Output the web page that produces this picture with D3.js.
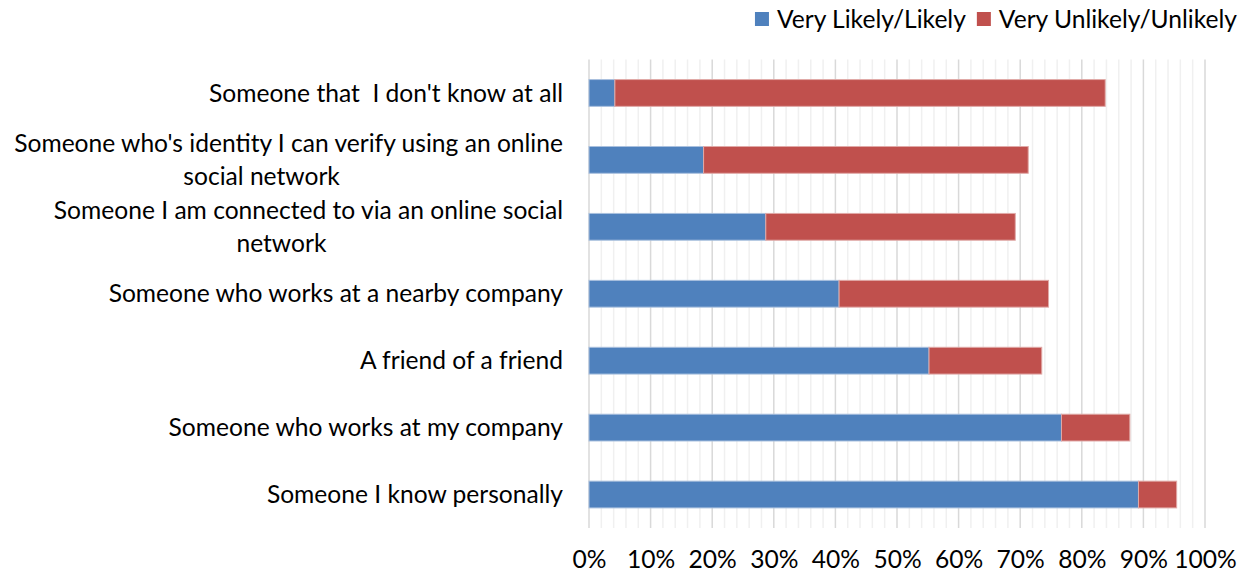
<!DOCTYPE html>
<html>
<head>
<meta charset="utf-8">
<script src="https://cdn.jsdelivr.net/npm/d3@7"></script>
<style>
  body { margin: 0; background: #fff; }
  text { font-family: Lato, "Open Sans", sans-serif; fill: #000; white-space: pre; }
</style>
</head>
<body>
<div id="chart"></div>
<script>
// category labels, top to bottom (multi-line ones split into lines)
const categories = [
  ["Someone that  I don't know at all"],
  ["Someone who's identity I can verify using an online", "social network"],
  ["Someone I am connected to via an online social", "network"],
  ["Someone who works at a nearby company"],
  ["A friend of a friend"],
  ["Someone who works at my company"],
  ["Someone I know personally"]
];
const likely   = [4.2, 18.6, 28.7, 40.6, 55.2, 76.7, 89.2];
const unlikely = [79.6, 52.7, 40.5, 34.0, 18.3, 11.1, 6.2];
const seriesNames = ["Very Likely/Likely", "Very Unlikely/Unlikely"];
const colors = ["#4F81BD", "#C0504D"];
const xTicks = [0, 10, 20, 30, 40, 50, 60, 70, 80, 90, 100];

const width = 1258, height = 575;
const margin = {top: 59.5, right: 53, bottom: 47, left: 589};
const w = width - margin.left - margin.right;
const h = height - margin.top - margin.bottom;
const fontSize = 24.6;

const svg = d3.select("#chart").append("svg")
  .attr("width", width)
  .attr("height", height);

const g = svg.append("g")
  .attr("transform", `translate(${margin.left},${margin.top})`);

const x = d3.scaleLinear().domain([0, 100]).range([0, w]);
const y = d3.scaleBand()
  .domain(d3.range(categories.length))
  .range([0, h])
  .paddingInner(0.6)
  .paddingOuter(0.3);

// minor gridlines every 2%
g.append("g").selectAll("line")
  .data(d3.range(0, 101, 2).filter(v => v % 10 !== 0))
  .join("line")
  .attr("x1", d => x(d)).attr("x2", d => x(d))
  .attr("y1", 0).attr("y2", h)
  .attr("stroke", "#f0f0f0")
  .attr("stroke-width", 1.5);

// major gridlines every 10%
g.append("g").selectAll("line")
  .data(xTicks)
  .join("line")
  .attr("x1", d => x(d)).attr("x2", d => x(d))
  .attr("y1", 0).attr("y2", h)
  .attr("stroke", "#d9d9d9")
  .attr("stroke-width", 1.5);

// stacked bars
const rows = categories.map((c, i) => ({i, a: likely[i], b: unlikely[i]}));

g.append("g").selectAll("rect")
  .data(rows)
  .join("rect")
  .attr("x", x(0))
  .attr("y", d => y(d.i))
  .attr("width", d => x(d.a) - x(0))
  .attr("height", y.bandwidth())
  .attr("fill", colors[0])
  .attr("stroke", "#a9c0de")
  .attr("stroke-width", 1);

g.append("g").selectAll("rect")
  .data(rows)
  .join("rect")
  .attr("x", d => x(d.a))
  .attr("y", d => y(d.i))
  .attr("width", d => x(d.a + d.b) - x(d.a))
  .attr("height", y.bandwidth())
  .attr("fill", colors[1])
  .attr("stroke", "#e0a9a7")
  .attr("stroke-width", 1);

// x axis labels
const xAxis = g.append("g")
  .attr("transform", `translate(0,${h})`)
  .call(d3.axisBottom(x).tickValues(xTicks).tickFormat(d => d + "%").tickSize(0).tickPadding(23));
xAxis.select(".domain").remove();
xAxis.selectAll("text")
  .style("font-family", "Lato, 'Open Sans', sans-serif")
  .attr("font-size", fontSize)
  .attr("fill", "#000");

// category labels
const labelX = -26;
const lineH = 33;
categories.forEach((lines, i) => {
  const cy = y(i) + y.bandwidth() / 2;
  const y0 = cy - (lines.length - 1) * lineH / 2;
  const first = g.append("text")
    .attr("x", labelX)
    .attr("y", y0)
    .attr("dy", "0.35em")
    .attr("text-anchor", "end")
    .attr("font-size", fontSize)
    .text(lines[0]);
  if (lines.length > 1) {
    const w1 = first.node().getComputedTextLength();
    g.append("text")
      .attr("x", labelX - w1 / 2 - 27)
      .attr("y", y0 + lineH)
      .attr("dy", "0.35em")
      .attr("text-anchor", "middle")
      .attr("font-size", fontSize)
      .text(lines[1]);
  }
});

// legend, right edge at about 1237
const legend = svg.append("g").attr("transform", "translate(0,19)");
let lx = 0;
seriesNames.forEach((name, i) => {
  legend.append("rect")
    .attr("x", lx).attr("y", -7)
    .attr("width", 14).attr("height", 14)
    .attr("fill", colors[i]);
  const t = legend.append("text")
    .attr("x", lx + 22).attr("y", 0)
    .attr("dy", "0.35em")
    .attr("font-size", fontSize)
    .text(name);
  lx += 22 + t.node().getComputedTextLength() + 11;
});
legend.attr("transform", `translate(${1237 - (lx - 11)},19)`);
</script>
</body>
</html>
